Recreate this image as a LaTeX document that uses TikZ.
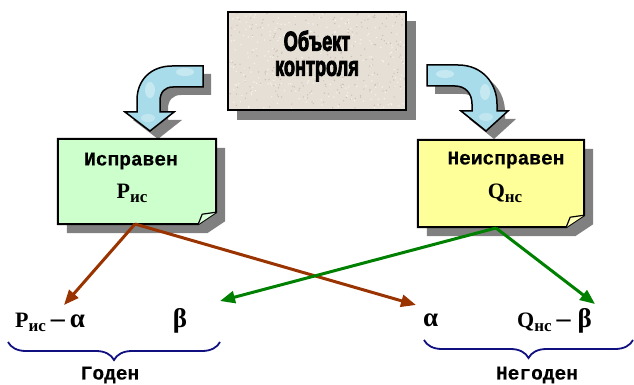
\documentclass[tikz,border=0pt]{standalone}
\usepackage{fontspec}
\setmainfont{Liberation Serif}
\newfontfamily\monofnt{Liberation Mono}[BoldFeatures={FakeBold=0.4}]
\newfontfamily\headfnt{Liberation Sans}[BoldFeatures={FakeBold=4}]
\usetikzlibrary{arrows.meta,decorations.pathreplacing,calc}

\definecolor{beige}{HTML}{E6DFD5}
\definecolor{speckdark}{HTML}{C9BFB2}
\definecolor{specklight}{HTML}{F6F2EC}
\definecolor{shadowgray}{HTML}{808080}
\definecolor{okgreen}{HTML}{CCFFCC}
\definecolor{badyellow}{HTML}{FFFF99}
\definecolor{bendblue}{HTML}{A8DCEA}
\definecolor{linkbrown}{HTML}{993300}
\definecolor{linkgreen}{HTML}{008000}
\definecolor{bracenavy}{HTML}{101080}

% symbol with a lowered Cyrillic index
\newcommand\idx[2]{#1\raisebox{-4.5pt}{\fontsize{17}{17}\selectfont #2}}
% long dash between the terms
\newcommand\dashsep{\hspace{5pt}{\fontsize{28}{28}\selectfont –}\hspace{5pt}}

\begin{document}
\begin{tikzpicture}[x=1pt,y=-1pt,
  outline/.style={draw=black,line width=2pt,line join=miter},
  notebox/.style={rectangle,minimum width=158pt,minimum height=85pt,inner sep=0pt},
  caption/.style={font=\monofnt\bfseries\fontsize{19.5}{19.5}\selectfont,inner sep=0pt},
  symtext/.style={font=\bfseries\fontsize{22}{22}\selectfont,inner sep=0pt},
  greek/.style={font=\bfseries\fontsize{27}{27}\selectfont,inner sep=0pt},
  link/.style={line width=3pt,-{Triangle[length=15pt,width=12pt]}},
  bracket/.style={draw=bracenavy,line width=1.8pt,
    decorate,decoration={brace,mirror,amplitude=18pt}},
  leftbend/.style={insert path={(203,66) -- (172,66)
      .. controls (151,66) and (137,80) .. (137,100) -- (137,112)
      -- (125,112) -- (150,131) -- (174,112) -- (160,112) -- (160,101)
      .. controls (160,92) and (165,87) .. (173,87) -- (203,87) -- cycle}},
  rightbend/.style={insert path={(427,65) -- (458,65)
      .. controls (483,65) and (497,84) .. (497,104) -- (497,111)
      -- (508,111) -- (486,131) -- (461,111) -- (472,111) -- (472,104)
      .. controls (472,93) and (465,86) .. (455,86) -- (427,86) -- cycle}}]
\useasboundingbox (0,0) rectangle (634,385);

% ---- object under test ----
\fill[shadowgray] (237,21) rectangle (416,120);
\node[rectangle,fill=beige,minimum width=178pt,minimum height=98pt,inner sep=0pt]
  (obj) at (317,61) {};
\begin{scope}
  \clip (obj.north west) rectangle (obj.south east);
  \pgfmathsetseed{11}
  \foreach \k in {1,...,260}{
    \fill[speckdark] ({317+89*rand},{61+49*rand}) circle (0.7pt);
    \fill[specklight] ({317+89*rand},{61+49*rand}) circle (0.8pt);
  }
\end{scope}
\draw[outline] (obj.north west) rectangle (obj.south east);
\node[align=center,inner sep=0pt,
  font=\headfnt\bfseries\fontsize{26}{25}\selectfont] (objtext) at (317,56)
  {\scalebox{0.70}[1.05]{Объект}\\\scalebox{0.70}[1.05]{контроля}};

% ---- bent arrows ----
\fill[shadowgray,shift={(8,8)},leftbend];
\fill[shadowgray,shift={(8,8)},rightbend];
\fill[bendblue,leftbend];
\fill[bendblue,rightbend];
\begin{scope}
  \clip[leftbend];
  \fill[white,opacity=0.35] (185,72) ellipse (9pt and 4pt);
  \fill[white,opacity=0.35] (150,90) ellipse (5pt and 8pt);
  \fill[white,opacity=0.3] (148,118) ellipse (7pt and 4pt);
\end{scope}
\begin{scope}
  \clip[rightbend];
  \fill[white,opacity=0.35] (445,74) ellipse (9pt and 4pt);
  \fill[white,opacity=0.35] (485,92) ellipse (5pt and 8pt);
  \fill[white,opacity=0.3] (486,117) ellipse (7pt and 4pt);
\end{scope}
\draw[draw=black,line width=1.5pt,line join=miter,leftbend];
\draw[draw=black,line width=1.5pt,line join=miter,rightbend];

% ---- state notes with a turned corner ----
\node[notebox] (ok) at (137,181.5) {};
\node[notebox,minimum width=166pt,minimum height=87pt] (bad) at (501,183.5) {};
\foreach \n/\c in {ok/okgreen,bad/badyellow}{
  \fill[shadowgray] ($(\n.north west)+(9,9)$) -- ($(\n.north east)+(9,9)$)
    -- ($(\n.south east)+(9,-3)$) -- ($(\n.south east)+(-9,9)$)
    -- ($(\n.south west)+(9,9)$) -- cycle;
  \filldraw[fill=\c,outline] (\n.north west) -- (\n.north east)
    -- ($(\n.south east)+(0,-12)$) -- ($(\n.south east)+(-18,0)$)
    -- (\n.south west) -- cycle;
  \filldraw[fill=\c!70!white,draw=black,line width=1.2pt,line join=round]
    ($(\n.south east)+(-18,0)$) -- ($(\n.south east)+(-14,-10)$)
    -- ($(\n.south east)+(0,-12)$);
}
\node[caption] (oklabel) at (131,161) {Исправен};
\node[symtext,anchor=base] (okprob) at (132,198) {\idx{P}{ис}};
\node[caption] (badlabel) at (506,160) {Неисправен};
\node[symtext,anchor=base] (badprob) at (505,198) {\idx{Q}{нс}};

% ---- outcomes ----
\node[symtext,anchor=base west] (goodok) at (15,327)
  {\idx{P}{ис}\dashsep{\fontsize{27}{27}\selectfont α}};
\node[greek,anchor=base] (goodbad) at (180,327) {β};
\node[greek,anchor=base west] (rejok) at (423,326) {α};
\node[symtext,anchor=base west] (rejbad) at (517,327)
  {\idx{Q}{нс}\dashsep\hspace{2pt}{\fontsize{27}{27}\selectfont β}};

\coordinate (okout) at (135,224);
\coordinate (badout) at (496,228);
\coordinate (goodoktip) at (64,305);
\coordinate (goodbadtip) at (220,301);
\coordinate (rejoktip) at (416,305);
\coordinate (rejbadtip) at (595,304);

\draw[link,draw=linkbrown,fill=linkbrown] (okout) -- (goodoktip);
\draw[link,draw=linkbrown,fill=linkbrown] (okout) -- (rejoktip);
\draw[link,draw=linkgreen,fill=linkgreen] (badout) -- (goodbadtip);
\draw[link,draw=linkgreen,fill=linkgreen] (badout) -- (rejbadtip);

% ---- groups ----
\coordinate (gl) at (8,342);
\coordinate (gr) at (220,342);
\coordinate (rl) at (424,340);
\coordinate (rr) at (633,340);
\draw[bracket] (gl) -- (gr);
\draw[bracket] (rl) -- (rr);
\node[caption] (good) at (110,375) {Годен};
\node[caption] (reject) at (537,375) {Негоден};
\end{tikzpicture}
\end{document}
